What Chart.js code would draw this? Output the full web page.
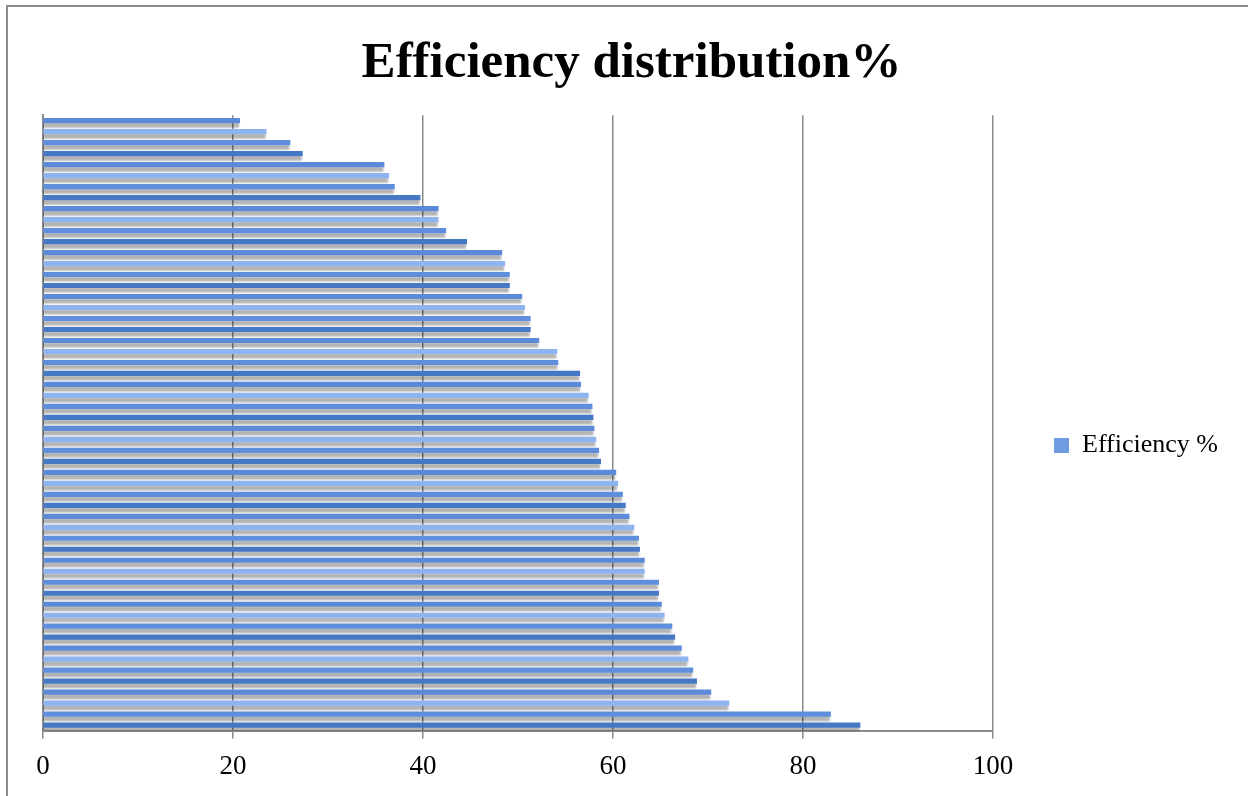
<!DOCTYPE html>
<html>
<head>
<meta charset="utf-8">
<script src="https://cdn.jsdelivr.net/npm/chart.js@4/dist/chart.umd.min.js"></script>
<style>
  html, body { margin: 0; padding: 0; background: #fff; }
  #frame { position: absolute; left: 6px; top: 5px; width: 1400px; height: 1000px; border: 2px solid #8c8c8c; }
  #wrap { position: absolute; left: 0; top: 0; width: 1248px; height: 796px; }
</style>
</head>
<body>
<div id="frame"></div>
<div id="wrap"><canvas id="chart"></canvas></div>
<script>
// one bar per item, top to bottom
const items = ["1","2","3","4","5","6","7","8","9","10","11","12","13","14","15","16","17","18","19","20",
  "21","22","23","24","25","26","27","28","29","30","31","32","33","34","35","36","37","38","39","40",
  "41","42","43","44","45","46","47","48","49","50","51","52","53","54","55","56"];
const efficiency = [20.7, 23.5, 26.0, 27.3, 35.9, 36.4, 37.0, 39.7, 41.6, 41.6,
  42.4, 44.6, 48.3, 48.6, 49.1, 49.1, 50.4, 50.7, 51.3, 51.3,
  52.2, 54.1, 54.2, 56.5, 56.6, 57.4, 57.8, 57.9, 58.0, 58.2,
  58.5, 58.7, 60.3, 60.5, 61.0, 61.3, 61.7, 62.2, 62.7, 62.8,
  63.3, 63.3, 64.8, 64.8, 65.1, 65.4, 66.2, 66.5, 67.2, 67.9,
  68.4, 68.8, 70.3, 72.2, 82.9, 86.0];
const xTicks = [0, 20, 40, 60, 80, 100];

const seriesName = "Efficiency %";
const titleText = "Efficiency distribution%";

// bars cycle through slightly different blues, like the gradient fill did
const blues = ["#5b8ad8", "#8db3f0", "#5f8fdc", "#4678c6"];

const serif = "'Liberation Serif', 'Times New Roman', serif";

// soft grey drop shadow under each bar
const shadowPlugin = {
  id: "barShadow",
  beforeDatasetsDraw(chart){
    let c = chart.ctx;
    c.save();
    c.shadowColor = "rgba(0,0,0,0.3)";
    c.shadowOffsetY = 4.5;
    c.shadowOffsetX = -1;
    c.shadowBlur = 2;
  },
  afterDatasetsDraw(chart){
    chart.ctx.restore();
  }
};

let ctx = document.querySelector("#chart").getContext("2d");

let chart = new Chart(ctx, {
  type: "bar",
  data: {
    labels: items,
    datasets: [{
      label: seriesName,
      data: efficiency,
      backgroundColor: (c) => blues[c.dataIndex % 4],
      barThickness: 4.5,
      borderWidth: 0
    }]
  },
  options: {
    indexAxis: "y",
    responsive: true,
    maintainAspectRatio: false,
    animation: false,
    layout: { padding: { left: 35, right: 20, top: 0, bottom: 1 } },
    plugins: {
      title: {
        display: true,
        text: titleText,
        color: "#000",
        font: { family: serif, size: 51, weight: "bold" },
        padding: { top: 33, bottom: 21 }
      },
      legend: {
        position: "right",
        // empty legend title only pushes the item down to the middle
        title: { display: true, text: " ", font: { size: 10 }, padding: { top: 84, bottom: 0 } },
        labels: {
          color: "#000",
          font: { family: serif, size: 26 },
          boxWidth: 15,
          boxHeight: 15,
          generateLabels: () => [{
            text: seriesName,
            fillStyle: "#6f9be2",
            strokeStyle: "#6f9be2",
            fontColor: "#000",
            lineWidth: 0,
            hidden: false,
            datasetIndex: 0
          }]
        }
      },
      tooltip: { enabled: false }
    },
    scales: {
      x: {
        min: 0,
        max: 100,
        afterBuildTicks: (s) => { s.ticks = xTicks.map(v => ({value: v})); },
        grid: { color: "#8a8a8a", lineWidth: 1.5, tickLength: 8 },
        border: { color: "#8a8a8a", width: 2 },
        ticks: { color: "#000", font: { family: serif, size: 27 }, padding: 12 }
      },
      y: {
        grid: { display: false },
        border: { color: "#8a8a8a", width: 2 },
        ticks: { display: false }
      },
      // empty spacer so the legend sits away from the plot
      gap: {
        axis: "y",
        position: "right",
        grid: { display: false },
        border: { display: false },
        ticks: { display: false },
        afterFit: (s) => { s.width = 51; }
      }
    }
  },
  plugins: [shadowPlugin]
});
</script>
</body>
</html>
